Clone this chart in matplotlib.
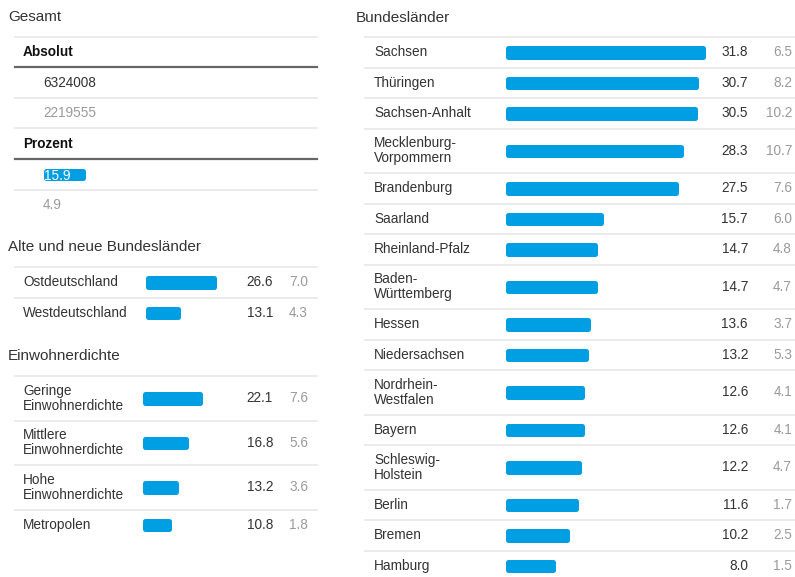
import matplotlib.pyplot as plt

plt.rcParams['font.family'] = ['Liberation Sans', 'DejaVu Sans']

# data
gesamt_abs = [6324008, 2219555]
gesamt_pct = [15.9, 4.9]

ow_labels = ["Ostdeutschland", "Westdeutschland"]
ow_vals = [26.6, 13.1]
ow_sec = [7.0, 4.3]

dichte_labels = ["Geringe\nEinwohnerdichte", "Mittlere\nEinwohnerdichte",
                 "Hohe\nEinwohnerdichte", "Metropolen"]
dichte_vals = [22.1, 16.8, 13.2, 10.8]
dichte_sec = [7.6, 5.6, 3.6, 1.8]

laender_labels = ["Sachsen", "Thüringen", "Sachsen-Anhalt", "Mecklenburg-\nVorpommern",
                  "Brandenburg", "Saarland", "Rheinland-Pfalz", "Baden-\nWürttemberg",
                  "Hessen", "Niedersachsen", "Nordrhein-\nWestfalen", "Bayern",
                  "Schleswig-\nHolstein", "Berlin", "Bremen", "Hamburg"]
laender_vals = [31.8, 30.7, 30.5, 28.3, 27.5, 15.7, 14.7, 14.7, 13.6, 13.2,
                12.6, 12.6, 12.2, 11.6, 10.2, 8.0]
laender_sec = [6.5, 8.2, 10.2, 10.7, 7.6, 6.0, 4.8, 4.7, 3.7, 5.3,
               4.1, 4.1, 4.7, 1.7, 2.5, 1.5]

W, H = 795, 577
BLUE = "#009fe3"
DARK = "#333333"
GREY = "#9a9a9a"
LINE = "#e8e8e8"
FS = 9.8
LW = 3.6               # edge width in pt -> rounded corners
LW_PX = LW * 100 / 72  # same in pixels

fig = plt.figure(figsize=(W / 100, H / 100), dpi=100)
bg = fig.add_axes([0, 0, 1, 1])
bg.set_xlim(0, W)
bg.set_ylim(H, 0)
bg.axis("off")


def bar_axes(x0, x1, scale):
    ax = fig.add_axes([x0 / W, 0, (x1 - x0) / W, 1])
    ax.set_xlim(0, (x1 - x0) / scale)
    ax.set_ylim(H, 0)
    ax.axis("off")
    return ax


def round_bars(ax, centers, vals, scale, height=13.5):
    pad = LW_PX / scale
    ax.barh(centers, [v - pad for v in vals], height=height - LW_PX, left=pad / 2,
            color=BLUE, edgecolor=BLUE, linewidth=LW, joinstyle="round")


def row_layout(labels, top):
    centers, seps = [], []
    y = top
    for lab in labels:
        h = 44.5 if "\n" in lab else 30.5
        seps.append(y)
        centers.append(y + h / 2)
        y += h
    return centers, seps


def table(labels, vals, sec, top, x0, x1, bar_x, scale, val_x, sec_x, label_x):
    centers, seps = row_layout(labels, top)
    for s in seps:
        bg.plot([x0, x1], [s, s], color=LINE, lw=1.2)
    ax = bar_axes(bar_x, x1, scale)
    round_bars(ax, centers, vals, scale)
    for c, lab, v, s in zip(centers, labels, vals, sec):
        bg.text(label_x, c, lab, fontsize=FS, color=DARK, va="center",
                linespacing=1.05)
        bg.text(val_x, c, f"{v:.1f}", fontsize=FS, color=DARK, va="center", ha="right")
        bg.text(sec_x, c, f"{s:.1f}", fontsize=FS, color=GREY, va="center", ha="right")


# Gesamt
bg.text(8, 17, "Gesamt", fontsize=11, color=DARK, va="center")
for y, col, lw in [(37, LINE, 1.2), (67, "#666666", 1.6), (98, LINE, 1.2),
                   (128, LINE, 1.2), (159, "#666666", 1.6), (190, LINE, 1.2)]:
    bg.plot([15, 317], [y, y], color=col, lw=lw)
bg.text(23, 52, "Absolut", fontsize=FS, color="#111111", weight="bold", va="center")
bg.text(43, 83, f"{gesamt_abs[0]}", fontsize=FS, color=DARK, va="center")
bg.text(43, 113, f"{gesamt_abs[1]}", fontsize=FS, color=GREY, va="center")
bg.text(23, 144, "Prozent", fontsize=FS, color="#111111", weight="bold", va="center")
ax_g = bar_axes(43, 317, 2.65)
round_bars(ax_g, [174.5], [gesamt_pct[0]], 2.65, height=12.5)
ax_g.text(0.3, 175.5, f"{gesamt_pct[0]:.1f}", fontsize=FS, color="white", va="center")
bg.text(43, 205, f"{gesamt_pct[1]:.1f}", fontsize=FS, color=GREY, va="center")

# Alte und neue Bundeslaender
bg.text(8, 247, "Alte und neue Bundesländer", fontsize=11, color=DARK, va="center")
table(ow_labels, ow_vals, ow_sec, 267, 15, 317, 145, 2.7, 273, 308, 23)

# Einwohnerdichte
bg.text(8, 356, "Einwohnerdichte", fontsize=11, color=DARK, va="center")
table(dichte_labels, dichte_vals, dichte_sec, 376, 15, 317, 142, 2.76, 273, 308, 23)

# Bundeslaender
bg.text(356, 18, "Bundesländer", fontsize=11, color=DARK, va="center")
table(laender_labels, laender_vals, laender_sec, 37, 365, 795, 505, 6.3, 748, 792, 374)

fig.savefig("out.png", dpi=100)
